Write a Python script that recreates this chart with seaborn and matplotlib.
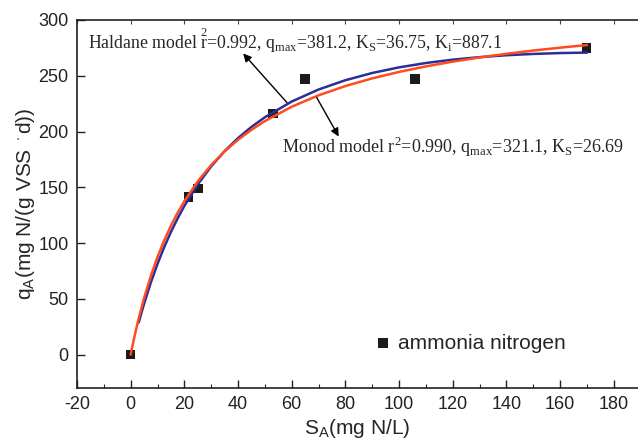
import numpy as np
import pandas as pd
import seaborn as sns
import matplotlib
matplotlib.use("Agg")
import matplotlib.pyplot as plt
from matplotlib.ticker import MultipleLocator

# ---- data ----
obs_S = [0.0, 21.6, 25.0, 53.1, 64.9, 105.9, 169.8]
obs_q = [0.0, 141.0, 149.0, 216.0, 247.0, 247.0, 275.0]

monod_S = [0, 1, 2, 3, 5, 7.5, 10, 12.5, 15, 17.5, 20, 25, 30, 35, 40, 45, 50,
           60, 70, 80, 90, 100, 110, 120, 130, 140, 150, 160, 170]
monod_q = [0.0, 11.60, 22.38, 32.45, 50.66, 70.44, 87.52, 102.42, 115.53, 127.16,
           137.55, 155.30, 169.92, 182.18, 192.59, 201.56, 209.35, 222.24, 232.47,
           240.77, 247.66, 253.45, 258.40, 262.68, 266.41, 269.69, 272.60, 275.19,
           277.53]

haldane_S = [3, 4, 5, 7.5, 10, 12.5, 15, 17.5, 20, 25, 30, 35, 40, 45, 50,
             60, 70, 80, 90, 100, 110, 120, 130, 140, 150, 160, 170]
haldane_q = [28.76, 37.40, 45.62, 64.52, 81.34, 96.41, 109.95, 122.19, 133.28,
             152.59, 168.76, 182.44, 194.11, 204.13, 212.80, 226.89, 237.67,
             246.01, 252.49, 257.53, 261.44, 264.44, 266.71, 268.39, 269.57,
             270.35, 270.77]

x_ticks = [-20, 0, 20, 40, 60, 80, 100, 120, 140, 160, 180]
y_ticks = [0, 50, 100, 150, 200, 250, 300]

haldane_label = (r"Haldane model $\overset{\mathregular{2}}{\mathregular{r}}$=0.992, "
                 r"q$_\mathregular{max}$=381.2, "
                 r"K$_\mathregular{S}$=36.75, K$_\mathregular{i}$=887.1")
monod_label = (r"Monod model r$^\mathregular{2}$=0.990, q$_\mathregular{max}$=321.1, "
               r"K$_\mathregular{S}$=26.69")

# ---- styling ----
sns.set_theme(style="ticks")
plt.rcParams["font.family"] = ["Liberation Sans", "DejaVu Sans"]
plt.rcParams["mathtext.fontset"] = "custom"
plt.rcParams["mathtext.rm"] = "Liberation Sans"
plt.rcParams["mathtext.it"] = "Liberation Sans"
plt.rcParams["axes.unicode_minus"] = False

fig = plt.figure(figsize=(6.38, 4.43), dpi=100)
ax = fig.add_axes([77 / 638, 55 / 443, 561 / 638, 368 / 443])

df_h = pd.DataFrame({"S": haldane_S, "q": haldane_q})
df_m = pd.DataFrame({"S": monod_S, "q": monod_q})
df_o = pd.DataFrame({"S": obs_S, "q": obs_q})

sns.lineplot(data=df_h, x="S", y="q", color="#2a2e96", lw=1.8, sort=False,
             estimator=None, ax=ax, legend=False, zorder=3)
sns.lineplot(data=df_m, x="S", y="q", color="#ff4b1f", lw=1.8, sort=False,
             estimator=None, ax=ax, legend=False, zorder=3)
sns.scatterplot(data=df_o, x="S", y="q", marker="s", s=48, color="#1c1a1a",
                edgecolor="none", ax=ax, zorder=2, label="ammonia nitrogen")

ax.set_xlim(-20, 189)
ax.set_ylim(-30, 300)
ax.set_xticks(x_ticks)
ax.set_yticks(y_ticks)
ax.xaxis.set_minor_locator(MultipleLocator(10))
ax.tick_params(axis="both", which="major", direction="in", length=6, width=1,
               labelsize=13, colors="#222222", pad=6)
ax.tick_params(axis="x", which="minor", direction="in", length=3, width=0.8)
for sp in ax.spines.values():
    sp.set_linewidth(1.2)
    sp.set_color("#222222")
ax.spines["right"].set_visible(False)

top = ax.secondary_xaxis("top")
top.set_xticks(x_ticks)
top.tick_params(direction="in", length=3, width=0.8, labeltop=False,
                colors="#444444")
top.spines["top"].set_visible(False)

ax.set_xlabel(r"S$_\mathregular{A}$(mg N/L)", fontsize=15, labelpad=3)
ax.set_ylabel(r"q$_\mathregular{A}$(mg N/(g VSS $^\cdot$d))", fontsize=15, labelpad=1)

# annotations
ax.text(-15.9, 281.5, haldane_label, fontsize=12.8, family="Liberation Serif",
        va="center", ha="left")
ax.annotate("", xy=(41.9, 270), xytext=(58.2, 226),
            arrowprops=dict(arrowstyle="-|>", color="black", lw=1,
                            mutation_scale=12, shrinkA=0, shrinkB=0))
ax.text(56.4, 186.5, monod_label, fontsize=13, family="Liberation Serif",
        va="center", ha="left")
ax.annotate("", xy=(77.5, 195.5), xytext=(69.3, 230.5),
            arrowprops=dict(arrowstyle="-|>", color="black", lw=1,
                            mutation_scale=12, shrinkA=0, shrinkB=0))

leg = ax.legend(loc="center left", bbox_to_anchor=(0.531, 0.122), frameon=False,
                fontsize=15, handlelength=0.8, handletextpad=0.3,
                borderpad=0, borderaxespad=0, markerscale=1.0)

fig.savefig("out.png", dpi=100)
